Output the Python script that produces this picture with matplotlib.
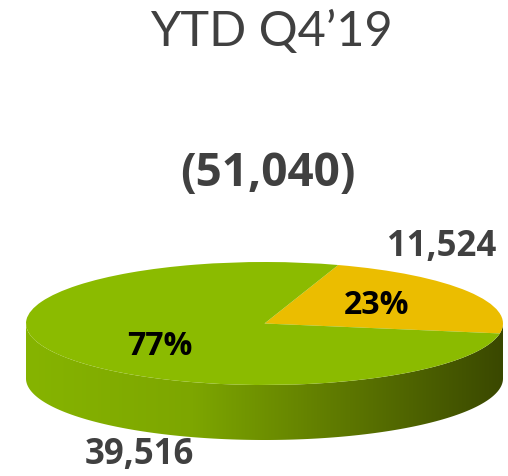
import matplotlib.pyplot as plt
import numpy as np
from matplotlib.path import Path
from matplotlib.patches import PathPatch
from matplotlib.colors import LinearSegmentedColormap

# -----------------------------
# Data
# -----------------------------
title = "YTD Q4\u201919"
labels = ["Yellow", "Green"]
values = [11524, 39516]
colors = ["#EBBD00", "#8BBB00"]
start_angle = -9.3

total = sum(values)

plt.rcParams['font.family'] = ['Lato', 'DejaVu Sans']
bold_font = ['Open Sans', 'DejaVu Sans']

W, H = 508, 476
fig = plt.figure(figsize=(W / 100, H / 100), dpi=100)


def px(x, y):
    # pixel position (from top-left) -> figure fraction
    return x / W, 1 - y / H


# -----------------------------
# Pie axes (ellipse top face + side band)
# -----------------------------
left, right, top, bottom = 26, 503, 262, 440
b_px = 61.5
depth = (bottom - top - 2 * b_px) / b_px
ax = fig.add_axes([left / W, 1 - bottom / H, (right - left) / W, (bottom - top) / H])

wedges, texts, autotexts = ax.pie(values, colors=colors, startangle=start_angle,
                                  autopct='%1.0f%%', pctdistance=0.55,
                                  wedgeprops=dict(linewidth=0),
                                  textprops=dict(fontsize=23, fontweight='bold',
                                                 color='black', family=bold_font))
# the big slice label sits a bit lower-right than its mid-angle
autotexts[1].set_position((-0.44, -0.37))
ax.set_aspect('auto')
ax.set_xlim(-1, 1)
ax.set_ylim(-1 - depth, 1)
ax.axis('off')

# side band: front half of the cylinder with a left-to-right shading
theta = np.linspace(np.pi, 2 * np.pi, 200)
upper = np.column_stack([np.cos(theta), np.sin(theta)])
lower = np.column_stack([np.cos(theta[::-1]), np.sin(theta[::-1]) - depth])
verts = np.vstack([upper, lower, upper[:1]])
codes = [Path.MOVETO] + [Path.LINETO] * (len(verts) - 2) + [Path.CLOSEPOLY]
side = PathPatch(Path(verts, codes), facecolor='none', edgecolor='none')
ax.add_patch(side)

side_cmap = LinearSegmentedColormap.from_list(
    "side", [(0, "#86B400"), (0.35, "#7DA600"), (0.7, "#5A7300"), (1, "#3A4800")])
grad = np.linspace(0, 1, 256).reshape(1, -1)
img = ax.imshow(grad, cmap=side_cmap, extent=(-1, 1, -1 - depth, 0),
                aspect='auto', zorder=0, interpolation='bicubic')
img.set_clip_path(side)

# -----------------------------
# Texts
# -----------------------------
grey = '#404040'
fig.text(*px(271, 32), title, ha='center', va='center', fontsize=35, color=grey)
fig.text(*px(268, 174), f"({total:,})", ha='center', va='center', fontsize=33,
         fontweight='bold', color=grey, family=bold_font)
fig.text(*px(442, 247), f"{values[0]:,}", ha='center', va='center', fontsize=25,
         fontweight='bold', color=grey, family=bold_font)
fig.text(*px(139, 455), f"{values[1]:,}", ha='center', va='center', fontsize=25,
         fontweight='bold', color=grey, family=bold_font)

fig.savefig("out.png", dpi=100)
